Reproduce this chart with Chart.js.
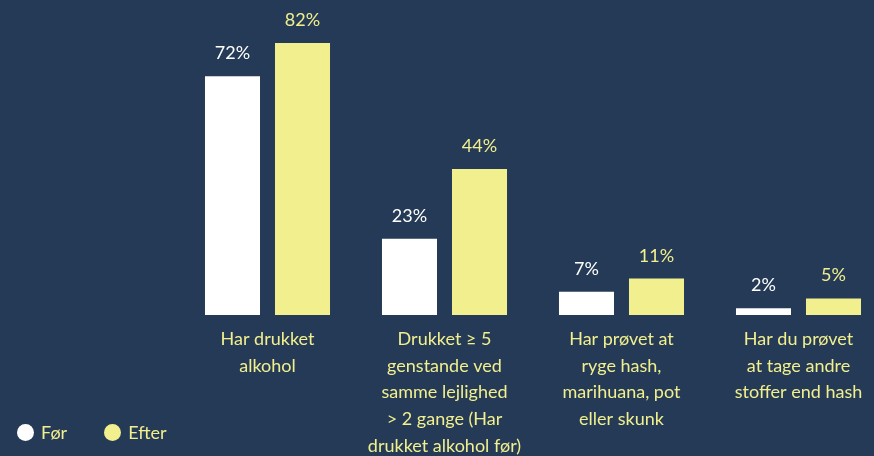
<!DOCTYPE html>
<html>
<head>
<meta charset="utf-8">
<script src="https://cdn.jsdelivr.net/npm/chart.js@4"></script>
<style>
  html, body { margin: 0; padding: 0; background: #253a56; overflow: hidden; }
  #wrap { position: relative; width: 890px; height: 456px; }
  #legend { position: absolute; left: 17px; top: 421px; font-family: Lato, sans-serif; font-size: 18px; color: #f1ef8e; }
  #legend span.item { display: inline-block; margin-right: 37px; }
  #legend span.dot { display: inline-block; width: 17px; height: 17px; border-radius: 50%; vertical-align: -2px; margin-right: 7px; }
</style>
</head>
<body>
<div id="wrap">
  <canvas id="chart"></canvas>
  <div id="legend"></div>
</div>
<script>
// categories (multi-line tick labels)
const categories = [
  ['Har drukket', 'alkohol'],
  ['Drukket \u2265 5', 'genstande ved', 'samme lejlighed', '> 2 gange (Har', 'drukket alkohol før)'],
  ['Har prøvet at', 'ryge hash,', 'marihuana, pot', 'eller skunk'],
  ['Har du prøvet', 'at tage andre', 'stoffer end hash']
];
const seriesNames = ['Før', 'Efter'];
const forValues = [72, 23, 7, 2];
const efterValues = [82, 44, 11, 5];

const white = '#ffffff';
const yellow = '#f1ef8e';

// draws the "72%" labels above each bar
const valueLabels = {
  id: 'valueLabels',
  afterDatasetsDraw(chart) {
    const ctx = chart.ctx;
    chart.data.datasets.forEach((ds, i) => {
      chart.getDatasetMeta(i).data.forEach((bar, j) => {
        ctx.save();
        ctx.fillStyle = ds.backgroundColor;
        ctx.font = '18px Lato, sans-serif';
        ctx.textAlign = 'center';
        ctx.textBaseline = 'alphabetic';
        ctx.fillText(ds.data[j] + '%', bar.x, bar.y - 17);
        ctx.restore();
      });
    });
  }
};

const config = {
  type: 'bar',
  data: {
    labels: categories,
    datasets: [{
      label: seriesNames[0],
      data: forValues,
      backgroundColor: white,
      barPercentage: 0.786,
      categoryPercentage: 0.791
    }, {
      label: seriesNames[1],
      data: efterValues,
      backgroundColor: yellow,
      barPercentage: 0.786,
      categoryPercentage: 0.791
    }]
  },
  options: {
    responsive: true,
    maintainAspectRatio: false,
    animation: false,
    layout: { padding: { left: 179, right: 3, top: 0, bottom: 0 } },
    plugins: {
      legend: { display: false },
      tooltip: { enabled: false }
    },
    scales: {
      y: { display: false, min: 0, max: 95 },
      x: {
        grid: { display: false, drawTicks: false },
        border: { display: false },
        ticks: {
          color: yellow,
          font: { family: 'Lato, sans-serif', size: 18, lineHeight: 1.48 },
          padding: 11,
          maxRotation: 0,
          autoSkip: false
        },
        afterFit(scale) { scale.height = 141; }
      }
    }
  },
  plugins: [valueLabels]
};

var ctx = document.getElementById('chart');
var myChart = new Chart(ctx, config);

// legend
const legend = document.getElementById('legend');
config.data.datasets.forEach(ds => {
  const item = document.createElement('span');
  item.className = 'item';
  const dot = document.createElement('span');
  dot.className = 'dot';
  dot.style.background = ds.backgroundColor;
  item.appendChild(dot);
  item.appendChild(document.createTextNode(ds.label));
  legend.appendChild(item);
});
</script>
</body>
</html>
